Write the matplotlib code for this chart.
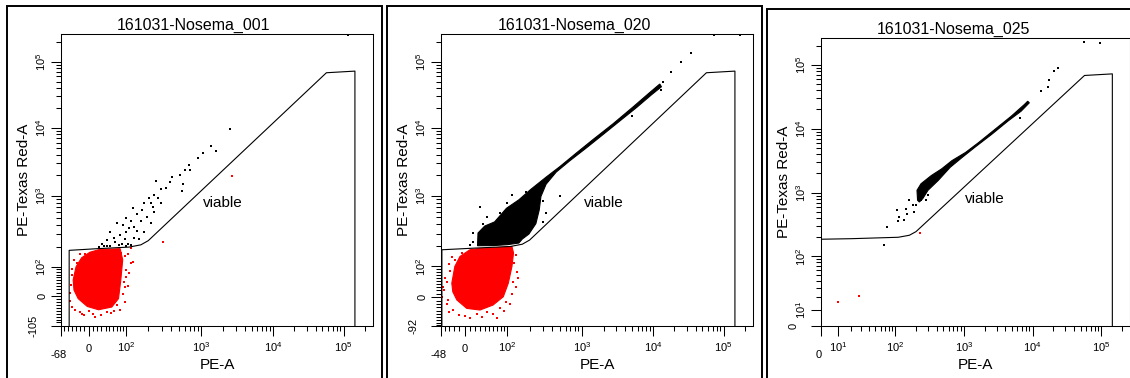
import numpy as np
import matplotlib
matplotlib.use("Agg")
import matplotlib.pyplot as plt
from matplotlib.ticker import FixedLocator, FixedFormatter, NullFormatter
from matplotlib.patches import Rectangle

plt.rcParams['font.family'] = ['Liberation Sans', 'DejaVu Sans']
plt.rcParams['mathtext.fontset'] = 'custom'
plt.rcParams['mathtext.rm'] = 'Liberation Sans'
plt.rcParams['mathtext.it'] = 'Liberation Sans'

# ---------------- data ----------------
TITLES = ["161031-Nosema_001", "161031-Nosema_020", "161031-Nosema_025"]
X_LABEL = "PE-A"
Y_LABEL = "PE-Texas Red-A"
GATE_NAME = "viable"
T_MAX = 262144
X_MIN = [-68, -48, 0]
Y_MIN = [-105, -92, 0]
X_DECADES = [4.44, 4.44, 4.5]
Y_DECADES = [4.42, 4.42, 4.5]
X_MIN_LABELS = ["-68", "-48", "0"]
Y_MIN_LABELS = ["-105", "-92", "0"]
X_TICKS = [[0, 1e2, 1e3, 1e4, 1e5], [0, 1e2, 1e3, 1e4, 1e5], [1e1, 1e2, 1e3, 1e4, 1e5]]
X_TICK_LABELS = [["0", "10^2", "10^3", "10^4", "10^5"],
                 ["0", "10^2", "10^3", "10^4", "10^5"],
                 ["10^1", "10^2", "10^3", "10^4", "10^5"]]
Y_TICKS = [[0, 1e2, 1e3, 1e4, 1e5], [0, 1e2, 1e3, 1e4, 1e5], [1e1, 1e2, 1e3, 1e4, 1e5]]
Y_TICK_LABELS = X_TICK_LABELS

GATE_X = [-46, -46, 20, 110, 160, 200, 57000, 145000, 145000, -46]
GATE_Y = [-300, 180, 190, 200, 215, 245, 68000, 72000, -300, -300]
GATE_LABEL_X = 2000
GATE_LABEL_Y = 800

# panel 1
P1_RED_CORE_X = [-36, -29, -16, 3, 27, 61, 80, 88, 82, 75, 56, 23, -3, -24, -34]
P1_RED_CORE_Y = [51, 100, 140, 169, 186, 188, 190, 130, 51, -9, -36, -45, -34, -9, 18]
P1_RED_X = [117, 100, 97, 90, -10, 11, -20, 43, 70, -42, -40, -27, -8, 84, 105, 100, 2610, 310, 119,
            -44, -43, -38, -31, -15, 30, 55, 80, 95, 105, 110, 95, -35, -20, 125, 0, 15, 62, -40, 92]
P1_RED_Y = [115, 87, 29, 7, -64, -61, -53, -53, -30, 34, 69, 115, 157, 166, 157, 62, 1920, 238, 195,
            10, -15, -35, -45, -60, -62, -55, -45, -20, 30, 75, 150, 130, 160, 120, -50, -70, -48, 90, 45]
P1_BLACK_X = [2500, 1340, 1600, 1060, 912, 684, 604, 705, 518, 401, 380, 574, 546, 252, 343, 294, 239,
              265, 205, 216, 176, 294, 228, 167, 239, 123, 143, 195, 100, 117, 159, 216, 70, 90, 129,
              111, 143, 176, 100, 80, 52, 61, 96, 129, 151, 43, 65, 85, 105, 31, 52, 35, 75, 100, 117,
              23, 43, 115000]
P1_BLACK_Y = [9800, 5450, 4490, 4180, 3630, 2810, 2360, 2360, 1990, 1880, 1570, 1490, 1180, 1670, 1320,
              1250, 1050, 936, 936, 794, 794, 794, 697, 638, 604, 674, 560, 513, 501, 449, 459, 421, 421,
              403, 377, 361, 330, 323, 323, 296, 323, 265, 260, 265, 260, 248, 233, 223, 223, 218, 208,
              205, 212, 210, 215, 200, 205, 250000]

# panel 2
P2_RED_CORE_X = [-25, -19, -9, 10, 30, 68, 116, 122, 116, 103, 87, 59, 30, 4, -15, -23]
P2_RED_CORE_Y = [42, 100, 144, 180, 188, 193, 200, 162, 100, 42, 1.5, -23, -38, -33, -8, 16]
P2_RED_X = [-35, -41, -32, -23, 1, 23, 44, 77, 120, 125, 116, -28, -19, 96, -6,
            -45, -44, -40, -35, -30, -10, 10, 35, 60, 90, 110, 130, 135, 130, -30, -25, 140, 70]
P2_RED_Y = [47, 21, -8, -38, -58, -51, -44, -33, 47, 114, 11, 81, 128, -13, 162,
            0, 30, 60, -20, -45, -55, -65, -60, -50, -40, -20, 30, 80, 150, 110, 140, 60, -62]
P2_BLACK_CORE_X = [25, 26, 40, 63, 97, 144, 207, 330, 500, 840, 1430, 2730, 5220, 8980, 12400,
                   13100, 9460, 5820, 3400, 1980, 1150, 681, 450, 330, 282, 268, 242, 196, 160, 144,
                   100, 60]
P2_BLACK_CORE_Y = [205, 306, 380, 433, 668, 878, 1234, 1860, 2640, 4210, 6710, 11600, 20800, 34300,
                   45900, 41800, 31600, 20300, 12800, 8010, 5010, 3220, 2210, 1470, 980, 634, 410, 296,
                   253, 223, 212, 206]
P2_BLACK_X = [13800, 18000, 24800, 34300, 13100, 4950, 500, 30, 44, 100, 117, 177, 229, 297, 330, 297,
              10, 16, 37, 77, 51, 16, 72000, 170000]
P2_BLACK_Y = [48600, 68800, 97700, 133700, 37200, 15200, 980, 706, 510, 787, 1035, 1124, 1164, 832,
              569, 433, 210, 234, 410, 569, 306, 306, 250000, 250000]

# panel 3
P3_BLACK_CORE_X = [211, 207, 237, 335, 473, 668, 1056, 1640, 2830, 4900, 7600, 8490,
                   8960, 6810, 4390, 2540, 1470, 944, 631, 422, 299, 251, 224]
P3_BLACK_CORE_Y = [759, 1087, 1377, 1850, 2350, 3160, 4250, 6080, 9760, 15700, 23900, 26900,
                   25400, 18800, 13200, 8170, 5200, 3560, 2490, 1550, 1087, 805, 713]
P3_BLACK_X = [75, 68, 106, 112, 109, 141, 150, 178, 188, 237, 282, 158, 200, 299, 133, 16600, 17500,
              20700, 23200, 13200, 6450, 55700, 94600]
P3_BLACK_Y = [289, 152, 528, 415, 364, 561, 467, 632, 497, 759, 759, 759, 632, 908, 367, 45700, 58500,
              78700, 88700, 38500, 14500, 225000, 218000]
P3_RED_X = [10, 27, 229]
P3_RED_Y = [16, 21, 235]

RED_CORES = [(P1_RED_CORE_X, P1_RED_CORE_Y), (P2_RED_CORE_X, P2_RED_CORE_Y), None]
BLACK_CORES = [None, (P2_BLACK_CORE_X, P2_BLACK_CORE_Y), (P3_BLACK_CORE_X, P3_BLACK_CORE_Y)]
RED_PTS = [(P1_RED_X, P1_RED_Y), (P2_RED_X, P2_RED_Y), (P3_RED_X, P3_RED_Y)]
BLACK_PTS = [(P1_BLACK_X, P1_BLACK_Y), (P2_BLACK_X, P2_BLACK_Y), (P3_BLACK_X, P3_BLACK_Y)]


# ---------------- logicle scale ----------------
def solve_p(W):
    if W <= 0:
        return 1.0
    lo, hi = 1.0, 100.0
    for _ in range(100):
        mid = 0.5 * (lo + hi)
        if 2 * mid * np.log10(mid) / (mid + 1) < W:
            lo = mid
        else:
            hi = mid
    return 0.5 * (lo + hi)


def logicle_S(y, T, M, W, p):
    u = np.asarray(y, dtype=float) - W
    a = T * 10 ** (-(M - W))
    au = np.abs(u)
    return np.sign(u) * a * (10 ** au - p ** 2 * 10 ** (-au / p) + p ** 2 - 1)


def make_logicle(T, M, r):
    W = 0.0
    if r < 0:
        lo, hi = 0.0, M / 2
        for _ in range(100):
            mid = 0.5 * (lo + hi)
            s0 = logicle_S(0.0, T, M, mid, solve_p(mid))
            if s0 > r:
                lo = mid
            else:
                hi = mid
        W = 0.5 * (lo + hi)
    p = solve_p(W)
    grid = np.linspace(-2.0, M + 0.6, 60001)
    vals = logicle_S(grid, T, M, W, p)

    def fwd(x):
        return np.interp(np.asarray(x, dtype=float), vals, grid)

    def inv(y):
        return logicle_S(y, T, M, W, p)

    return fwd, inv


def minor_ticks(vmin):
    t = [v for v in range(-90, 100, 10) if v > vmin and v != 0]
    for e in range(2, 6):
        t += [k * 10 ** e for k in range(2, 10)]
    return [v for v in t if v < T_MAX and v > vmin]


def minor_ticks_log():
    t = []
    for e in range(1, 6):
        t += [k * 10 ** e for k in range(2, 10)]
    return [v for v in t if v < T_MAX]


def math_label(s):
    if "^" in s:
        b, e = s.split("^")
        return r"$\mathregular{%s^{%s}}$" % (b, e)
    return s


# ---------------- layout (pixels) ----------------
W_PX, H_PX = 1130, 378
AX_PX = [(61, 34, 373, 326), (441, 34, 753, 326), (821, 38, 1130, 325.7)]
FRAME_PX = [(7, 6, 382), (387, 6, 762), (767, 9, 1140)]
TITLE_PX = [(194, 25), (574, 25), (953, 29)]

fig = plt.figure(figsize=(W_PX / 100, H_PX / 100), dpi=100)

for i in range(3):
    l, t, r, b = AX_PX[i]
    ax = fig.add_axes([l / W_PX, 1 - b / H_PX, (r - l) / W_PX, (b - t) / H_PX])
    fx, ix = make_logicle(T_MAX, X_DECADES[i], X_MIN[i])
    fy, iy = make_logicle(T_MAX, Y_DECADES[i], Y_MIN[i])
    ax.set_xscale('function', functions=(fx, ix))
    ax.set_yscale('function', functions=(fy, iy))
    ax.set_xlim(X_MIN[i], T_MAX)
    ax.set_ylim(Y_MIN[i], T_MAX)

    # clouds
    if RED_CORES[i] is not None:
        ax.fill(RED_CORES[i][0], RED_CORES[i][1], color='#ff0000', lw=0.8, zorder=2)
    if BLACK_CORES[i] is not None:
        ax.fill(BLACK_CORES[i][0], BLACK_CORES[i][1], color='#000000', lw=0.8, zorder=2)
    ax.scatter(RED_PTS[i][0], RED_PTS[i][1], s=1.0, marker='s', color='#ff0000', lw=0, zorder=3)
    ax.scatter(BLACK_PTS[i][0], BLACK_PTS[i][1], s=1.0, marker='s', color='#000000', lw=0, zorder=3)

    # gate
    ax.plot(GATE_X, GATE_Y, color='black', lw=0.8, zorder=4)
    ax.text(GATE_LABEL_X, GATE_LABEL_Y, GATE_NAME, fontsize=11, ha='center', va='center', zorder=5)

    # ticks
    xmaj = [X_MIN[i]] + X_TICKS[i]
    ymaj = [Y_MIN[i]] + Y_TICKS[i]
    ax.xaxis.set_major_locator(FixedLocator(xmaj))
    ax.yaxis.set_major_locator(FixedLocator(ymaj))
    ax.xaxis.set_major_formatter(FixedFormatter([""] + [math_label(s) for s in X_TICK_LABELS[i]]))
    ax.yaxis.set_major_formatter(FixedFormatter([""] + [math_label(s) for s in Y_TICK_LABELS[i]]))
    if X_MIN[i] < 0:
        ax.xaxis.set_minor_locator(FixedLocator(minor_ticks(X_MIN[i])))
    else:
        ax.xaxis.set_minor_locator(FixedLocator(minor_ticks_log()))
    if Y_MIN[i] < 0:
        ax.yaxis.set_minor_locator(FixedLocator(minor_ticks(Y_MIN[i])))
    else:
        ax.yaxis.set_minor_locator(FixedLocator(minor_ticks_log()))
    ax.xaxis.set_minor_formatter(NullFormatter())
    ax.yaxis.set_minor_formatter(NullFormatter())
    ax.tick_params(which='major', length=7.2, width=0.75, direction='out', labelsize=8)
    ax.tick_params(which='minor', length=3.8, width=0.75, direction='out')
    ax.tick_params(axis='x', which='major', pad=11.5)
    ax.tick_params(axis='y', which='major', pad=2.5, labelrotation=90)
    for lab in ax.get_xticklabels():
        lab.set_verticalalignment('baseline')
    for lab in ax.get_yticklabels():
        lab.set_verticalalignment('center')
    for sp in ax.spines.values():
        sp.set_linewidth(0.75)

    # axis-minimum labels
    ax.annotate(X_MIN_LABELS[i], xy=(X_MIN[i], 0), xycoords=('data', 'axes fraction'),
                xytext=(-2, -21), textcoords='offset points', ha='center', va='center',
                fontsize=8, annotation_clip=False)
    ax.annotate(Y_MIN_LABELS[i], xy=(0, Y_MIN[i]), xycoords=('axes fraction', 'data'),
                xytext=(-20, 0), textcoords='offset points', ha='center', va='center',
                fontsize=8, rotation=90, annotation_clip=False)

    # axis labels
    ax.set_xlabel(X_LABEL, fontsize=11)
    ax.set_ylabel(Y_LABEL, fontsize=11)
    ax.xaxis.set_label_coords(0.5, -(365 - b) / (b - t))
    ax.xaxis.label.set_verticalalignment('center')
    ax.yaxis.set_label_coords(-(l - (24 + FRAME_PX[i][0] - 7)) / (r - l), 0.5)
    ax.yaxis.label.set_verticalalignment('center')

    # frame and title
    fl, ft, fr = FRAME_PX[i]
    fig.add_artist(Rectangle((fl / W_PX, -0.1), (fr - fl) / W_PX, 0.1 + 1 - ft / H_PX,
                             transform=fig.transFigure, fill=False, lw=1.4, ec='black'))
    fig.text(TITLE_PX[i][0] / W_PX, 1 - TITLE_PX[i][1] / H_PX, TITLES[i], fontsize=11.5,
             ha='center', va='center')

fig.savefig("out.png", dpi=100)
